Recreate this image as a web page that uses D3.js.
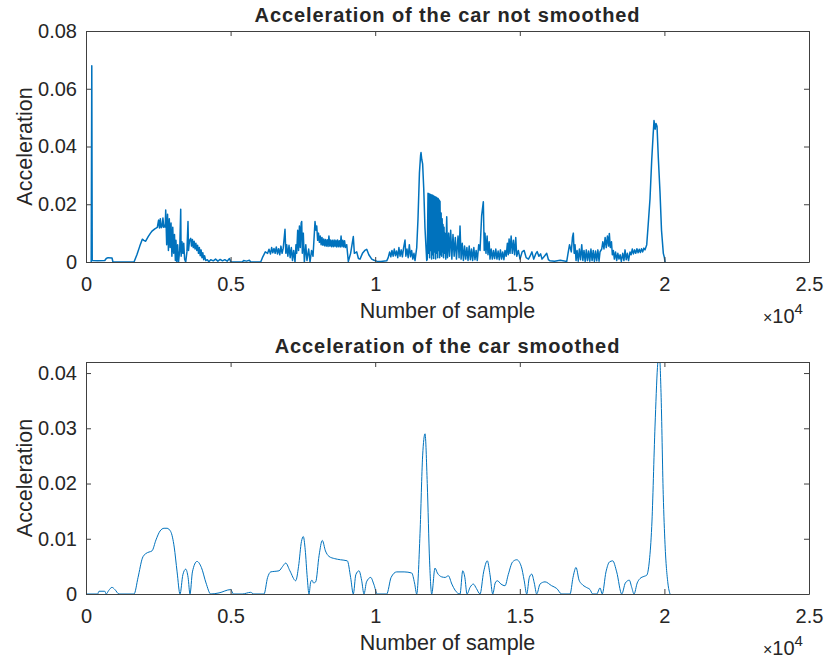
<!DOCTYPE html>
<html>
<head>
<meta charset="utf-8">
<script src="https://cdn.jsdelivr.net/npm/d3@7"></script>
<style>
  body { margin: 0; background: #fff; }
  text { font-family: "Liberation Sans", Arial, Helvetica, sans-serif; fill: #262626; }
</style>
</head>
<body>
<svg id="chart" width="827" height="661"></svg>
<script>
// tick values and labels
const xTicks = [0, 5000, 10000, 15000, 20000, 25000];
const yTicksTop = [0, 0.02, 0.04, 0.06, 0.08];
const yTicksBottom = [0, 0.01, 0.02, 0.03, 0.04];
const titles = ['Acceleration of the car not smoothed', 'Acceleration of the car smoothed'];
const xLabel = 'Number of sample';
const yLabel = 'Acceleration';

// [sample, acceleration]
const notSmoothed = [
  [180,0],[200,0.068],[215,0.0005],[400,0.0004],[650,0.0005],[700,0.0012],[760,0.0015],[900,0.0014],[930,0.0001],[1200,0],[1660,0],
  [1760,0.0025],[1860,0.0055],[1947,0.0079],[2000,0.0075],[2064,0.0072],[2150,0.0088],[2230,0.0100],[2293,0.0108],[2380,0.0115],[2466,0.0120],
  [2510,0.0145],[2540,0.0118],[2570,0.0150],[2600,0.0119],[2630,0.0122],[2660,0.0152],[2690,0.0120],[2720,0.0128],[2740,0.0121],[2756,0.0180],
  [2790,0.006],[2820,0.0165],[2850,0.004],[2880,0.0150],[2910,0.005],[2940,0.0135],[2970,0.002],[3000,0.0120],[3030,0.003],[3060,0.0095],
  [3090,0.0005],[3110,0.0075],[3140,0],[3170,0.0060],[3200,0],[3240,0.004],[3275,0.0183],[3290,0.002],[3320,0.0070],[3350,0.003],
  [3380,0.0065],[3410,0.001],[3448,0],[3490,0.0035],[3527,0.0140],[3545,0.004],[3580,0.0075],[3621,0.0082],[3650,0.0055],[3680,0.0078],
  [3710,0.0050],[3740,0.0072],[3770,0.0045],[3800,0.0065],[3830,0.0040],[3860,0.0058],[3890,0.0030],[3920,0.0050],[3950,0.0022],[3980,0.0042],
  [4010,0.0015],[4040,0.0032],[4070,0.0008],[4100,0.0022],[4140,0.0005],[4195,0.0008],[4250,0.0001],
  [4312,0.0008],[4400,0.0004],[4480,0.0010],[4560,0.0003],[4640,0.0009],[4720,0.0004],[4800,0.0008],[4880,0.0003],[4960,0.0012],[5004,0.0001],
  [5405,0],[5450,0.0005],[5550,0.0003],[5650,0.0006],[5695,0],[6041,0],
  [6100,0.0015],[6200,0.0035],[6280,0.0030],[6328,0.0044],[6380,0.0028],[6420,0.0050],[6460,0.0032],[6500,0.0047],[6540,0.0030],[6580,0.0052],
  [6620,0.0028],[6660,0.0046],[6700,0.0025],[6740,0.0055],[6780,0.0030],[6820,0.0048],[6881,0.0113],[6910,0.0030],[6940,0.0060],[6980,0.0020],
  [7020,0.0058],[7060,0.0015],[7100,0.0050],[7140,0.0005],[7180,0.0040],[7227,0],
  [7260,0.0060],[7286,0.0030],[7320,0.0110],[7350,0.0040],[7380,0.0125],[7410,0.0050],[7440,0.0135],[7459,0.0140],[7480,0.0030],[7514,0.0100],
  [7550,0],[7600,0.0060],[7640,0.0005],[7700,0.0045],[7746,0],[7800,0.0040],[7850,0.0020],[7919,0.0140],[7950,0.0110],[7978,0.0125],
  [8010,0.0075],[8040,0.0100],[8070,0.0068],[8100,0.0090],[8130,0.0060],[8160,0.0085],[8190,0.0058],[8220,0.0080],[8250,0.0056],[8280,0.0078],
  [8310,0.0055],[8340,0.0077],[8370,0.0054],[8400,0.0090],[8430,0.0055],[8460,0.0076],[8490,0.0053],[8520,0.0075],[8550,0.0053],[8580,0.0076],
  [8610,0.0054],[8640,0.0075],[8670,0.0052],[8700,0.0076],[8730,0.0053],[8760,0.0074],[8790,0.0052],[8820,0.0090],[8850,0.0053],[8880,0.0075],
  [8910,0.0052],[8940,0.0074],[8970,0.0050],[9015,0.0060],[9070,0.0002],[9150,0.0030],[9243,0.0088],[9280,0.0030],[9361,0.0035],[9420,0.0012],
  [9475,0.0010],[9560,0.0030],[9640,0.0040],[9707,0.0044],[9780,0.0025],[9880,0.0010],[9960,0.0006],[10053,0.0003],[10200,0.0002],[10398,0.0004],
  [10450,0.0015],[10500,0.0035],[10540,0.0018],[10580,0.0040],[10620,0.0020],[10660,0.0045],[10700,0.0022],[10740,0.0038],[10780,0.0015],[10820,0.0050],
  [10860,0.0020],[10900,0.0042],[10940,0.0018],[10980,0.0048],[11031,0.0076],[11060,0.0020],[11100,0.0045],[11140,0.0015],[11180,0.0060],[11220,0.0018],
  [11260,0.0040],[11300,0.0010],[11340,0.0030],[11377,0.0005],
  [11436,0.0050],[11480,0.0150],[11530,0.0310],[11570,0.0370],[11584,0.0379],[11610,0.0355],[11640,0.0340],[11680,0.0250],[11720,0.0120],[11781,0.0005],
  [11800,0.0010],[11826,0.0238],[11845,0.0030],[11862,0.0236],[11880,0.0015],[11898,0.0235],[11915,0.0040],[11932,0.0233],[11950,0.0010],[11968,0.0232],
  [11985,0.0025],[12002,0.0230],[12020,0.0012],[12038,0.0228],[12055,0.0035],[12072,0.0226],[12090,0.0010],[12108,0.0224],[12125,0.0030],[12142,0.0222],
  [12160,0.0015],[12178,0.0220],[12195,0.0040],[12212,0.0215],[12228,0.0015],[12241,0.0210],
  [12262,0.0025],[12280,0.0170],[12298,0.0020],[12315,0.0150],[12330,0.0035],[12345,0.0130],[12362,0.0015],[12380,0.0120],[12395,0.0030],[12410,0.0100],
  [12440,0.0010],[12473,0.0157],[12500,0.0015],
  [12540,0.0100],[12570,0.0020],[12610,0.0110],[12650,0.0010],[12690,0.0095],[12730,0.0020],[12770,0.0085],[12810,0.0010],[12864,0.0090],[12900,0.0015],
  [12933,0.0125],[12970,0.0010],[13010,0.0065],[13050,0.0005],[13090,0.0055],[13130,0.0010],[13170,0.0050],[13210,0.0005],[13250,0.0055],[13290,0.0008],
  [13330,0.0045],[13370,0.0005],[13410,0.0050],[13450,0.0008],[13490,0.0040],[13530,0.0005],[13580,0.0060],[13625,0.0040],[13680,0.0160],[13739,0.0209],
  [13770,0.0040],[13797,0.0100],[13830,0.0030],[13870,0.0090],[13900,0.0025],[13940,0.0070],[13970,0.0010],[14010,0.0045],[14050,0.0010],[14090,0.0040],
  [14130,0.0012],[14170,0.0045],[14210,0.0010],[14250,0.0038],[14290,0.0008],[14330,0.0042],[14370,0.0010],[14410,0.0035],[14450,0.0008],[14489,0.0040],
  [14530,0.0020],[14570,0.0065],[14600,0.0025],[14630,0.0080],[14662,0.0030],[14700,0.0090],[14740,0.0030],[14780,0.0075],[14820,0.0025],[14860,0.0085],
  [14894,0.0020],[14950,0.0040],[15008,0.0010],[15080,0.0035],[15150,0.0040],[15220,0.0015],[15300,0.0010],[15354,0.0020],[15420,0.0035],[15480,0.0010],
  [15560,0.0030],[15600,0.0036],[15660,0.0020],[15720,0.0028],[15768,0.0010],[15850,0.0020],[15931,0.0030],[15990,0.0008],[16045,0.0004],[16200,0.0003],
  [16400,0.0006],[16623,0.0002],[16668,0.0030],[16720,0.0060],[16780,0.0035],[16820,0.0085],[16851,0.0100],[16880,0.0030],[16910,0.0060],
  [16945,0.0005],[16980,0.0040],[17020,0.0003],[17060,0.0045],[17100,0.0008],[17142,0.0060],[17180,0.0005],[17220,0.0040],[17260,0.0002],[17300,0.0042],
  [17340,0.0005],[17380,0.0038],[17420,0.0003],[17460,0.0045],[17500,0.0005],[17540,0.0040],[17580,0.0002],[17620,0.0038],[17660,0.0004],[17700,0.0042],
  [17740,0.0003],[17774,0.0035],
  [17833,0.0045],[17870,0.0070],[17910,0.0045],[17950,0.0085],[17990,0.0050],[18030,0.0090],[18070,0.0055],[18096,0.0099],[18130,0.0050],[18170,0.0070],
  [18200,0.0025],[18234,0.0040],
  [18270,0.0010],[18310,0.0035],[18350,0.0005],[18390,0.0030],[18430,0.0010],[18470,0.0025],[18510,0.0002],[18560,0.0030],[18600,0.0005],[18639,0.0042],
  [18680,0.0008],[18720,0.0030],[18760,0.0005],[18812,0.0035],[18850,0.0025],[18890,0.0045],[18930,0.0028],[18970,0.0042],[19010,0.0030],[19050,0.0046],
  [19090,0.0032],[19130,0.0044],[19170,0.0033],[19210,0.0046],[19250,0.0035],[19290,0.0048],[19330,0.0042],
  [19389,0.0060],[19440,0.0130],[19503,0.0220],[19560,0.0350],[19610,0.0440],[19641,0.0490],[19680,0.0460],[19710,0.0480],[19745,0.0470],[19790,0.0360],
  [19849,0.0240],[19900,0.0110],[19963,0.0030],[20000,0.0015],[20022,0]
];

// [sample, acceleration]
const smoothed = [
  [0,0],[400,0],[450,0.0005],[650,0.0005],[700,0],[780,0.0006],[899,0.0012],[1000,0.0008],[1141,0],[1660,0],
  [1800,0.0030],[1950,0.0065],[2064,0.0073],[2180,0.0076],[2282,0.0078],[2420,0.0098],[2560,0.0114],[2700,0.0119],[2800,0.0119],[2929,0.0113],
  [3050,0.0085],[3150,0.0040],[3251,0],[3350,0.0035],[3448,0.0045],[3530,0.0030],[3596,0],[3680,0.0040],[3838,0.0059],[3990,0.0048],
  [4150,0.0020],[4312,0],[4600,0.0002],[5004,0.0008],[5100,0],[5400,0],[5695,0.0003],[5800,0],[6155,0],
  [6280,0.0030],[6387,0.0040],[6530,0.0041],[6674,0.0042],[6800,0.0050],[6906,0.0056],[7050,0.0042],[7251,0.0024],[7350,0.0050],[7450,0.0095],
  [7514,0.0104],[7580,0.0080],[7650,0.0030],[7711,0],[7770,0.0022],[7815,0.0025],[7870,0.0020],[7943,0.0022],[8060,0.0070],[8171,0.0097],
  [8280,0.0078],[8403,0.0068],[8600,0.0064],[8800,0.0062],[9036,0.0060],[9150,0.0030],[9243,0],[9330,0.0035],[9440,0.0042],[9530,0.0025],
  [9613,0],[9700,0.0022],[9845,0.0030],[9950,0.0018],[10073,0],[10398,0],[10550,0.0030],[10744,0.0040],[11000,0.0040],[11263,0.0038],
  [11360,0.0020],[11436,0],[11550,0.0110],[11640,0.0250],[11723,0.0290],[11800,0.0200],[11880,0.0060],[11954,0],
  [12068,0.0047],[12150,0.0038],[12300,0.0031],[12420,0.0030],[12528,0.0033],[12650,0.0018],[12760,0.0007],[12933,0],[13027,0.0042],[13100,0.0030],
  [13175,0],[13280,0.0012],[13393,0.0018],[13500,0.0010],[13625,0],[13750,0.0040],[13877,0.0060],[13970,0.0035],[14064,0],[14150,0.0020],
  [14223,0.0024],[14350,0.0018],[14489,0.0015],[14600,0.0035],[14750,0.0058],[14894,0.0062],[15050,0.0050],[15150,0.0025],[15240,0],[15330,0.0030],
  [15413,0.0036],[15500,0.0020],[15585,0],[15700,0.0018],[15872,0.0022],[16100,0.0015],[16277,0.0010],[16450,0],[16737,0],[16840,0.0030],
  [16944,0.0048],[17050,0.0025],[17142,0.0018],[17300,0.0012],[17428,0.0008],[17520,0],[17660,0],[17774,0.0011],[17850,0],[17980,0.0040],
  [18100,0.0058],[18213,0.0060],[18350,0.0040],[18525,0],[18650,0.0020],[18787,0.0025],[18870,0.0012],[18950,0],[19060,0.0020],[19157,0.0028],
  [19300,0.0032],[19389,0.0034],[19480,0.0060],[19562,0.0122],[19676,0.0304],[19760,0.0410],[19820,0.0440],[19883,0.0365],[19960,0.0180],[20022,0.0090],
  [20120,0.0020],[20195,0]
];

const svg = d3.select('#chart');
const left = 86, right = 809;
const lineColor = '#0072BD';
const axisColor = '#404040';

const x = d3.scaleLinear().domain([0, 25000]).range([left, right]);

function drawPanel(top, bottom, yMax, yTicks, data, title, curve, lineWidth, id) {
  const y = d3.scaleLinear().domain([0, yMax]).range([bottom, top]);
  const g = svg.append('g');

  g.append('clipPath').attr('id', id)
    .append('rect')
    .attr('x', left).attr('y', top)
    .attr('width', right - left).attr('height', bottom - top);

  const line = d3.line()
    .x(d => x(d[0]))
    .y(d => y(d[1]))
    .curve(curve);

  g.append('path')
    .datum(data)
    .attr('clip-path', `url(#${id})`)
    .attr('fill', 'none')
    .attr('stroke', lineColor)
    .attr('stroke-width', lineWidth)
    .attr('stroke-linejoin', 'round')
    .attr('d', line);

  // box with inward ticks on all four sides
  const xFmt = d => String(d / 10000);
  g.append('g')
    .attr('transform', `translate(0,${bottom})`)
    .call(d3.axisBottom(x).tickValues(xTicks).tickFormat(xFmt).tickSizeInner(-5).tickSizeOuter(0).tickPadding(15));
  g.append('g')
    .attr('transform', `translate(0,${top})`)
    .call(d3.axisTop(x).tickValues(xTicks).tickFormat('').tickSizeInner(-5).tickSizeOuter(0));
  g.append('g')
    .attr('transform', `translate(${left},0)`)
    .call(d3.axisLeft(y).tickValues(yTicks).tickFormat(d => String(d)).tickSizeInner(-5).tickSizeOuter(0).tickPadding(9));
  g.append('g')
    .attr('transform', `translate(${right},0)`)
    .call(d3.axisRight(y).tickValues(yTicks).tickFormat('').tickSizeInner(-5).tickSizeOuter(0));

  g.selectAll('.domain, .tick line').attr('stroke', axisColor);
  g.selectAll('.tick text')
    .attr('font-family', '"Liberation Sans", Arial, sans-serif')
    .attr('font-size', 20)
    .attr('fill', '#262626');

  // title
  g.append('text')
    .attr('x', (left + right) / 2)
    .attr('y', top - 9)
    .attr('text-anchor', 'middle')
    .attr('font-size', 20)
    .attr('font-weight', 'bold')
    .attr('letter-spacing', 0.9)
    .attr('fill', '#000')
    .text(title);

  // axis labels
  g.append('text')
    .attr('x', (left + right) / 2)
    .attr('y', bottom + 56)
    .attr('text-anchor', 'middle')
    .attr('font-size', 21.5)
    .text(xLabel);

  g.append('text')
    .attr('transform', `translate(31.5,${(top + bottom) / 2}) rotate(-90)`)
    .attr('text-anchor', 'middle')
    .attr('font-size', 21.5)
    .text(yLabel);

  // x10^4 exponent
  const ex = g.append('text')
    .attr('x', 763)
    .attr('y', bottom + 60.5)
    .attr('font-size', 20);
  ex.append('tspan').attr('font-size', 16).text('\u00d7');
  ex.append('tspan').text('10');
  ex.append('tspan').attr('font-size', 15).attr('dy', -9).text('4');
}

drawPanel(31, 262, 0.08, yTicksTop, notSmoothed, titles[0], d3.curveLinear, 1.5, 'clipTop');
drawPanel(362, 594, 0.042, yTicksBottom, smoothed, titles[1], d3.curveMonotoneX, 1, 'clipBottom');
</script>
</body>
</html>
